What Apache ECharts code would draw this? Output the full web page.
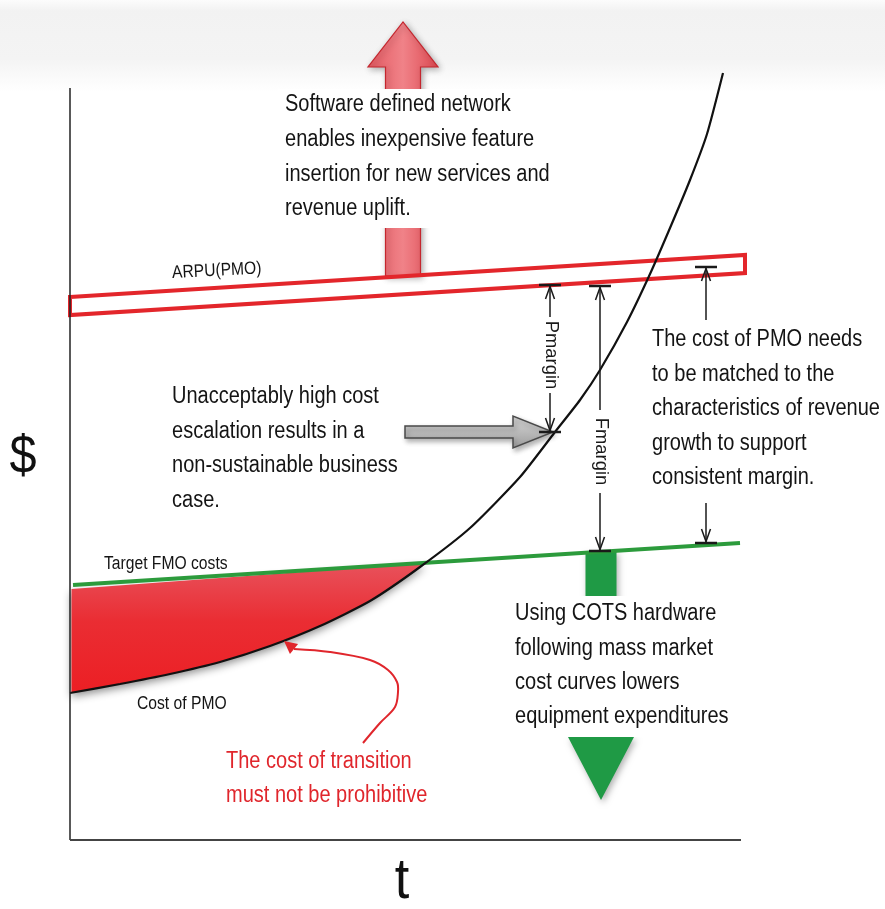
<!DOCTYPE html>
<html>
<head>
<meta charset="utf-8">
<script src="https://cdn.jsdelivr.net/npm/echarts@6/dist/echarts.min.js"></script>
<style>html,body{margin:0;padding:0;background:#fff}#c{width:885px;height:909px}</style>
</head>
<body>
<div id="c"></div>
<script>
// ---- data (t on x, $ on y; arbitrary conceptual units) ----
const costX = [0, 5, 10, 15, 20, 25, 30, 35, 40, 45, 48.5, 51, 53, 55.7, 58, 60, 62, 63.7, 65.3];
const costY = [14.7, 15.6, 16.6, 17.8, 19.4, 21.4, 23.9, 27.3, 31.2, 36.3, 40.8, 44.0, 47.0, 51.8, 56.6, 61.2, 66.0, 70.6, 76.7];
const targetX = [0.3, 67];
const targetY = [25.5, 29.7];
const arpuX = [0, 67.5];
const arpuTop = [54.3, 58.5];
const arpuBottom = [52.5, 56.7];
const axisXLine = [[0, 0], [67.2, 0]];
const axisYLine = [[0, 0], [0, 75.2]];
const upArrow = [33.3, 56.4, 33.3, 81.8];
const downArrow = [53.1, 28.9, 53.1, 4.0];
const grayArrow = [33.5, 40.8, 48.3, 40.8];
const marginX = [48, 53, 63.6];
const marginTop = [55.5, 55.4, 57.3];
const marginBottom = [40.8, 28.9, 29.7];
const marginGapTop = [52.3, 43.0, 52.0];
const marginGapBottom = [44.7, 34.7, 33.7];
const marginLabels = ['Pmargin', 'Fmargin', ''];
const transX = [29.3, 31.0, 32.5, 32.8, 32.7, 31.8, 30.0, 26.0, 22.4];
const transY = [9.7, 11.7, 13.3, 14.8, 15.8, 17.0, 18.0, 18.8, 19.1];
const transTip = [21.4, 19.9];

const softwareLines = ['Software defined network', 'enables inexpensive feature', 'insertion for new services and', 'revenue uplift.'];
const escalationLines = ['Unacceptably high cost', 'escalation results in a', 'non-sustainable business', 'case.'];
const pmoLines = ['The cost of PMO needs', 'to be matched to the', 'characteristics of revenue', 'growth to support', 'consistent margin.'];
const cotsLines = ['Using COTS hardware', 'following mass market', 'cost curves lowers', 'equipment expenditures'];
const transitionLines = ['The cost of transition', 'must not be prohibitive'];
const arpuLabel = 'ARPU(PMO)';
const targetLabel = 'Target FMO costs';
const costLabel = 'Cost of PMO';
const yLabel = '$';
const xLabel = 't';

// ---- helpers ----
const FONT = '"Liberation Sans", Arial, Helvetica, sans-serif';
function greenAt(x) {
  return targetY[0] + (x - targetX[0]) * (targetY[1] - targetY[0]) / (targetX[1] - targetX[0]);
}
function costAt(x) {
  for (let i = 1; i < costX.length; i++) {
    if (x <= costX[i]) {
      const t = (x - costX[i - 1]) / (costX[i] - costX[i - 1]);
      return costY[i - 1] + t * (costY[i] - costY[i - 1]);
    }
  }
  return costY[costY.length - 1];
}
function crossing() {
  for (let i = 1; i < costX.length; i++) {
    const d0 = costY[i - 1] - greenAt(costX[i - 1]);
    const d1 = costY[i] - greenAt(costX[i]);
    if (d0 < 0 && d1 >= 0) {
      const t = -d0 / (d1 - d0);
      return costX[i - 1] + t * (costX[i] - costX[i - 1]);
    }
  }
  return costX[0];
}

function textBlock(lines, x, y0, lh, size, fill, sx) {
  return lines.map((s, i) => ({
    type: 'text', x: x, y: y0 + i * lh, z: 100, scaleX: sx,
    style: { text: s, font: size + 'px ' + FONT, fill: fill, textAlign: 'left', textVerticalAlign: 'middle', align: 'left', verticalAlign: 'middle' }
  }));
}
function whiteBox(x, y, w, h) {
  return { type: 'rect', z: 90, shape: { x: x, y: y, width: w, height: h }, style: { fill: '#ffffff' } };
}

function blockArrow(shaftW, headW, headL, style) {
  return function (params, api) {
    const p0 = api.coord([api.value(0), api.value(1)]);
    const p1 = api.coord([api.value(2), api.value(3)]);
    const dx = p1[0] - p0[0], dy = p1[1] - p0[1];
    const L = Math.sqrt(dx * dx + dy * dy);
    const ux = dx / L, uy = dy / L, nx = -uy, ny = ux;
    const bx = p1[0] - ux * headL, by = p1[1] - uy * headL;
    const pts = [
      [p0[0] + nx * shaftW / 2, p0[1] + ny * shaftW / 2],
      [bx + nx * shaftW / 2, by + ny * shaftW / 2],
      [bx + nx * headW / 2, by + ny * headW / 2],
      [p1[0], p1[1]],
      [bx - nx * headW / 2, by - ny * headW / 2],
      [bx - nx * shaftW / 2, by - ny * shaftW / 2],
      [p0[0] - nx * shaftW / 2, p0[1] - ny * shaftW / 2]
    ];
    return { type: 'polygon', shape: { points: pts }, style: style };
  };
}

const chart = echarts.init(document.getElementById('c'), null, { renderer: 'canvas' });
const TXT = '#141414';

const option = {
  animation: false,
  backgroundColor: '#ffffff',
  grid: { left: 70, top: 40, width: 670, height: 800 },
  xAxis: { type: 'value', min: 0, max: 67, show: false },
  yAxis: { type: 'value', min: 0, max: 80, show: false },
  graphic: [
    { type: 'rect', z: -10, silent: true, shape: { x: 0, y: 0, width: 885, height: 92 },
      style: { fill: new echarts.graphic.LinearGradient(0, 0, 0, 1, [
        { offset: 0, color: '#fcfcfc' }, { offset: 0.12, color: '#f2f2f2' },
        { offset: 0.65, color: '#f4f4f4' }, { offset: 1, color: '#ffffff' }]) } },
    whiteBox(278, 89, 294, 139),
    whiteBox(510, 596, 226, 141),
    ...textBlock(softwareLines, 285, 105, 34.7, 23, TXT, 0.87),
    ...textBlock(escalationLines, 172, 397, 34.5, 23, TXT, 0.87),
    ...textBlock(pmoLines, 652, 340, 34.5, 23, TXT, 0.87),
    ...textBlock(cotsLines, 515, 614, 34.3, 23, TXT, 0.87),
    ...textBlock(transitionLines, 226, 762, 34, 23, '#e0262c', 0.87),
    { type: 'text', x: 172, y: 273, z: 100, rotation: 0.05, scaleX: 0.87,
      style: { text: arpuLabel, font: '18px ' + FONT, fill: TXT, textVerticalAlign: 'middle', verticalAlign: 'middle' } },
    { type: 'text', x: 104, y: 564, z: 100, scaleX: 0.87,
      style: { text: targetLabel, font: '18px ' + FONT, fill: TXT, textVerticalAlign: 'middle', verticalAlign: 'middle' } },
    { type: 'text', x: 137, y: 704, z: 100, scaleX: 0.87,
      style: { text: costLabel, font: '18px ' + FONT, fill: TXT, textVerticalAlign: 'middle', verticalAlign: 'middle' } },
    { type: 'text', x: 23, y: 458, z: 100, scaleX: 0.9,
      style: { text: yLabel, font: '54px ' + FONT, fill: '#111', textAlign: 'center', align: 'center', textVerticalAlign: 'middle', verticalAlign: 'middle' } },
    { type: 'text', x: 402, y: 882, z: 100, scaleX: 0.9,
      style: { text: xLabel, font: '58px ' + FONT, fill: '#111', textAlign: 'center', align: 'center', textVerticalAlign: 'middle', verticalAlign: 'middle' } }
  ],
  series: [
    // red transition-cost area between target FMO line and cost of PMO curve
    {
      type: 'custom', z: 2, data: [[0]],
      renderItem: function (params, api) {
        const cx = crossing();
        const x0 = 0.15;
        const pts = [api.coord([x0, greenAt(x0) - 0.4]), api.coord([cx, greenAt(cx)])];
        for (let i = costX.length - 1; i >= 0; i--) {
          if (costX[i] < cx && costX[i] > x0) pts.push(api.coord([costX[i], costY[i]]));
        }
        pts.push(api.coord([x0, costAt(x0)]));
        return { type: 'polygon', shape: { points: pts },
          style: { fill: new echarts.graphic.LinearGradient(0, 0, 0, 1, [
            { offset: 0, color: '#e8525c' }, { offset: 0.45, color: '#ea2d33' }, { offset: 1, color: '#ec1f24' }]),
            shadowBlur: 8, shadowColor: 'rgba(0,0,0,0.45)', shadowOffsetY: 4 } };
      }
    },
    // up arrow (revenue uplift)
    {
      type: 'custom', z: 3, data: [upArrow],
      renderItem: blockArrow(35, 70, 45, {
        fill: new echarts.graphic.LinearGradient(0, 0, 1, 0, [
          { offset: 0, color: '#e45a62' }, { offset: 0.5, color: '#f08288' }, { offset: 1, color: '#de4a52' }]),
        stroke: '#c4262e', lineWidth: 1.2, shadowBlur: 6, shadowColor: 'rgba(0,0,0,0.3)', shadowOffsetX: 2, shadowOffsetY: 2 })
    },
    // down arrow (COTS)
    {
      type: 'custom', z: 3, data: [downArrow],
      renderItem: blockArrow(31, 66, 63, {
        fill: '#1f9a45', shadowBlur: 6, shadowColor: 'rgba(0,0,0,0.3)', shadowOffsetX: 2, shadowOffsetY: 3 })
    },
    // ARPU band
    {
      type: 'custom', z: 4, data: [[0]],
      renderItem: function (params, api) {
        const pts = [api.coord([arpuX[0], arpuTop[0]]), api.coord([arpuX[1], arpuTop[1]]),
                     api.coord([arpuX[1], arpuBottom[1]]), api.coord([arpuX[0], arpuBottom[0]])];
        return { type: 'polygon', shape: { points: pts },
          style: { fill: 'rgba(255,255,255,0)', stroke: '#e3262b', lineWidth: 4, lineJoin: 'miter' } };
      }
    },
    // Target FMO costs line
    {
      type: 'line', z: 5, data: targetX.map((x, i) => [x, targetY[i]]), showSymbol: false, silent: true,
      lineStyle: { color: '#2c9b3c', width: 4 }
    },
    // Cost of PMO curve
    {
      type: 'line', z: 6, data: costX.map((x, i) => [x, costY[i]]), showSymbol: false, silent: true, smooth: 0.2,
      lineStyle: { color: '#111111', width: 2.2 }
    },
    // axes
    { type: 'line', z: 6, data: axisYLine, showSymbol: false, silent: true, lineStyle: { color: '#222', width: 1.5 } },
    { type: 'line', z: 6, data: axisXLine, showSymbol: false, silent: true, lineStyle: { color: '#444', width: 2 } },
    // gray arrow
    {
      type: 'custom', z: 7, data: [grayArrow],
      renderItem: blockArrow(12, 32, 40, {
        fill: new echarts.graphic.LinearGradient(0, 0, 0, 1, [
          { offset: 0, color: '#d8d8d8' }, { offset: 1, color: '#9c9c9c' }]),
        stroke: '#4a4a4a', lineWidth: 1.5, shadowBlur: 5, shadowColor: 'rgba(0,0,0,0.3)', shadowOffsetX: 2, shadowOffsetY: 3 })
    },
    // margin dimension arrows
    {
      type: 'custom', z: 8,
      data: marginX.map((x, i) => [x, marginTop[i], marginBottom[i], marginGapTop[i], marginGapBottom[i]]),
      renderItem: function (params, api) {
        const i = params.dataIndex;
        const x = api.value(0);
        const pT = api.coord([x, api.value(1)]);
        const pB = api.coord([x, api.value(2)]);
        const gT = api.coord([x, api.value(3)]);
        const gB = api.coord([x, api.value(4)]);
        const cx = pT[0];
        const col = '#1a1a1a';
        const ch = [
          { type: 'line', shape: { x1: cx - 11, y1: pT[1], x2: cx + 11, y2: pT[1] }, style: { stroke: col, lineWidth: 2.5 } },
          { type: 'line', shape: { x1: cx - 11, y1: pB[1], x2: cx + 11, y2: pB[1] }, style: { stroke: col, lineWidth: 2.5 } },
          { type: 'line', shape: { x1: cx, y1: pT[1], x2: cx, y2: gT[1] }, style: { stroke: col, lineWidth: 1.5 } },
          { type: 'line', shape: { x1: cx, y1: gB[1], x2: cx, y2: pB[1] }, style: { stroke: col, lineWidth: 1.5 } },
          { type: 'polyline', shape: { points: [[cx - 4.5, pT[1] + 14], [cx, pT[1] + 1.5], [cx + 4.5, pT[1] + 14]] }, style: { stroke: col, lineWidth: 1.5, fill: 'none' } },
          { type: 'polyline', shape: { points: [[cx - 4.5, pB[1] - 14], [cx, pB[1] - 1.5], [cx + 4.5, pB[1] - 14]] }, style: { stroke: col, lineWidth: 1.5, fill: 'none' } }
        ];
        if (marginLabels[i]) {
          ch.push({ type: 'text', x: cx + 1, y: (gT[1] + gB[1]) / 2, rotation: -Math.PI / 2, scaleX: 1.02,
            style: { text: marginLabels[i], font: '18px ' + FONT, fill: '#1a1a1a',
              textAlign: 'center', align: 'center', textVerticalAlign: 'middle', verticalAlign: 'middle' } });
        }
        return { type: 'group', children: ch };
      }
    },
    // red curved "cost of transition" arrow
    {
      type: 'custom', z: 8, data: [[0]],
      renderItem: function (params, api) {
        const pts = transX.map((x, i) => api.coord([x, transY[i]]));
        const base = pts[pts.length - 1];
        const tip = api.coord(transTip);
        const dx = tip[0] - base[0], dy = tip[1] - base[1];
        const L = Math.sqrt(dx * dx + dy * dy);
        const ux = dx / L, uy = dy / L, nx = -uy, ny = ux;
        const hw = 6.5;
        const head = [[tip[0], tip[1]], [base[0] + nx * hw, base[1] + ny * hw], [base[0] - nx * hw, base[1] - ny * hw]];
        return { type: 'group', children: [
          { type: 'polyline', shape: { points: pts, smooth: 0.35 }, style: { stroke: '#e0262c', lineWidth: 2, fill: 'none' } },
          { type: 'polygon', shape: { points: head }, style: { fill: '#e0262c' } }
        ] };
      }
    }
  ]
};
chart.setOption(option);
</script>
</body>
</html>
